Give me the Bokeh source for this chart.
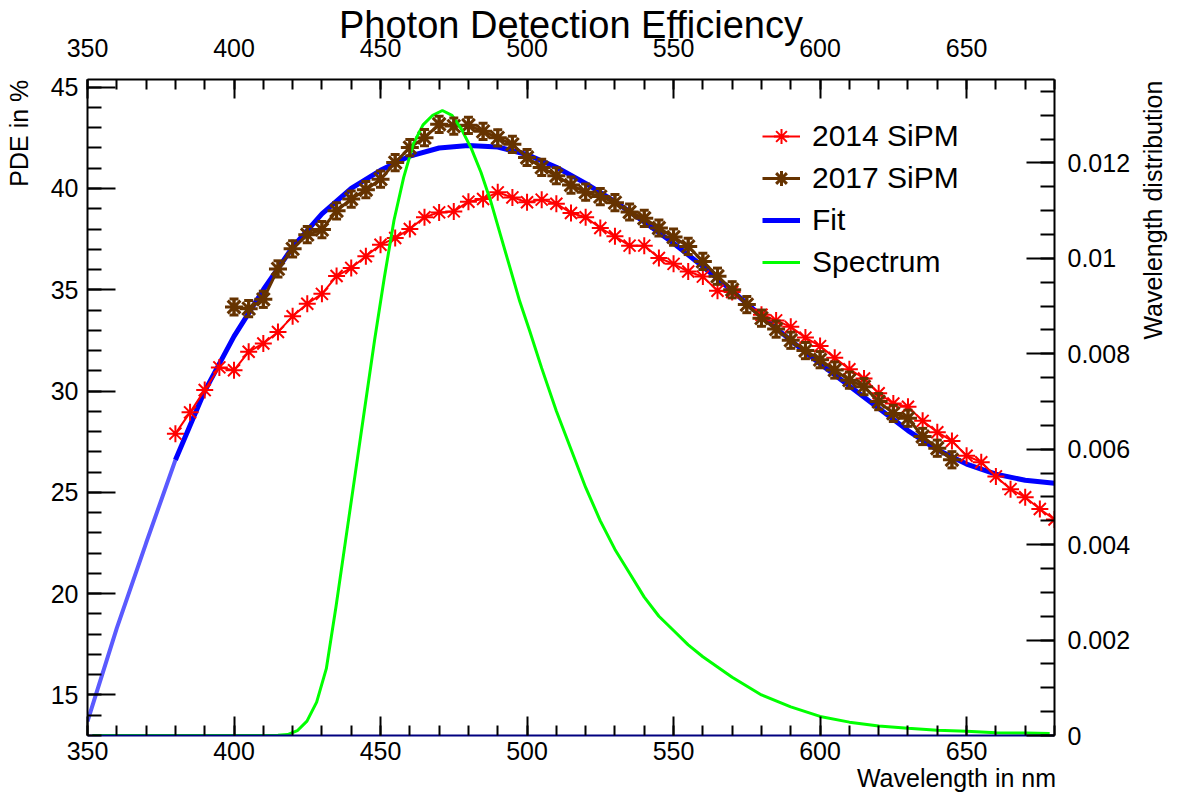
import math
from bokeh.plotting import figure
from bokeh.models import (Range1d, LinearAxis, SingleIntervalTicker, CustomJSTickFormatter,
                          Legend, LegendItem, Whisker, ColumnDataSource, TeeHead)
from bokeh.embed import file_html
from bokeh.resources import INLINE

# ---------------- data ----------------
red_x = [380, 385, 390, 395, 400, 405, 410, 415, 420, 425, 430, 435, 440, 445, 450, 455,
         460, 465, 470, 475, 480, 485, 490, 495, 500, 505, 510, 515, 520, 525, 530, 535,
         540, 545, 550, 555, 560, 565, 570, 575, 580, 585, 590, 595, 600, 605, 610, 615,
         620, 625, 630, 635, 640, 645, 650, 655, 660, 665, 670, 675, 680]
red_y = [27.9, 28.95, 30.05, 31.17, 31.03, 31.94, 32.35, 32.92, 33.69, 34.31, 34.8, 35.68,
         36.08, 36.66, 37.22, 37.56, 38.0, 38.58, 38.82, 38.87, 39.35, 39.48, 39.81, 39.56,
         39.32, 39.45, 39.25, 38.79, 38.58, 38.05, 37.64, 37.18, 37.18, 36.57, 36.28, 35.9,
         35.65, 34.95, 34.89, 34.28, 33.77, 33.49, 33.17, 32.64, 32.22, 31.64, 31.08, 30.62,
         29.89, 29.39, 29.23, 28.53, 27.97, 27.54, 26.81, 26.49, 25.79, 25.16, 24.76, 24.18,
         23.66]

brown_x = [400, 405, 410, 415, 420, 425, 430, 435, 440, 445, 450, 455, 460, 465, 470, 475,
           480, 485, 490, 495, 500, 505, 510, 515, 520, 525, 530, 535, 540, 545, 550, 555,
           560, 565, 570, 575, 580, 585, 590, 595, 600, 605, 610, 615, 620, 625, 630, 635,
           640, 645]
brown_y = [34.15, 34.07, 34.53, 36.03, 37.02, 37.72, 37.97, 38.9, 39.48, 39.94, 40.46, 41.28,
           42.02, 42.51, 43.17, 43.08, 43.12, 42.82, 42.5, 42.18, 41.53, 41.04, 40.63, 40.17,
           39.82, 39.6, 39.3, 38.84, 38.53, 38.05, 37.6, 37.14, 36.4, 35.67, 35.0, 34.27,
           33.6, 33.06, 32.51, 32.0, 31.55, 31.04, 30.54, 30.22, 29.48, 28.9, 28.66, 27.76,
           27.18, 26.61]
brown_err = [0.4] * len(brown_x)

fit_x = [350, 360, 370, 380, 390, 400, 410, 420, 430, 440, 450, 460, 470, 480, 490, 500,
         510, 520, 530, 540, 550, 560, 570, 580, 590, 600, 610, 620, 630, 640, 650, 660,
         670, 680]
fit_y = [13.7, 18.3, 22.5, 26.6, 30.0, 32.7, 35.0, 37.1, 38.75, 40.0, 40.9, 41.6, 42.0, 42.12,
         42.05, 41.68, 41.05, 40.25, 39.35, 38.35, 37.3, 36.15, 34.95, 33.7, 32.5, 31.35,
         30.25, 29.15, 28.05, 27.1, 26.4, 25.9, 25.6, 25.45]

spec_x = [351.65, 365, 380, 395, 410, 415, 418.3, 421.6, 424.9, 428.2, 431.5, 434.8, 438.1,
          441.4, 444.7, 448.0, 451.3, 454.6, 457.9, 461.2, 464.5, 467.8, 471.1, 474.4, 477.7,
          481.0, 484.3, 487.6, 490.9, 494.2, 497.5, 500.8, 505, 510, 515, 520, 525, 530, 535,
          540, 545, 550, 555, 560, 570, 580, 590, 600, 610, 620, 630, 640, 650, 660, 670,
          678.35]
spec_y = [0, 0, 0, 0, 0, 0.000005, 0.00002, 0.0001, 0.0003, 0.0007, 0.0014, 0.0027, 0.0041,
          0.0055, 0.0069, 0.0083, 0.0096, 0.0108, 0.0117, 0.0124, 0.0128, 0.0130, 0.0131,
          0.0130, 0.0127, 0.0123, 0.0118, 0.0112, 0.0105, 0.0098, 0.0091, 0.0085, 0.0077,
          0.0068, 0.0060, 0.0052, 0.0045, 0.0039, 0.0034, 0.0029, 0.0025, 0.0022, 0.0019,
          0.00165, 0.00122, 0.00085, 0.0006, 0.0004, 0.00028, 0.0002, 0.00015, 0.00011,
          0.00009, 0.00006, 0.00005, 0.00004]

x_ticks_interval = 50
left_tick_interval = 5
right_tick_interval = 0.002

FONT = "Liberation Sans"
NBSP = "\u00a0"

# ---------------- figure ----------------
p = figure(width=1184, height=794, output_backend="svg", toolbar_location=None,
           x_range=Range1d(350, 680), y_range=Range1d(13, 45.38),
           min_border_left=87, min_border_right=129, min_border_top=77, min_border_bottom=59,
           x_axis_location=None, y_axis_location=None)
p.extra_y_ranges = {"spec": Range1d(0, 0.01375)}
p.xgrid.visible = False
p.ygrid.visible = False
p.outline_line_color = None
p.background_fill_color = "white"
p.border_fill_color = "white"


def style(ax, tin, mtin, standoff, line_color="black"):
    ax.major_tick_in = tin
    ax.major_tick_out = 0
    ax.minor_tick_in = mtin
    ax.minor_tick_out = 0
    ax.major_tick_line_color = "black"
    ax.major_tick_line_width = 2
    ax.minor_tick_line_color = "black"
    ax.minor_tick_line_width = 2
    ax.axis_line_color = line_color
    ax.axis_line_width = 2
    ax.major_label_text_font = FONT
    ax.major_label_text_font_size = "25px"
    ax.major_label_text_color = "black"
    ax.major_label_standoff = standoff
    ax.axis_label_text_font = FONT
    ax.axis_label_text_font_style = "normal"
    ax.axis_label_text_color = "black"
    ax.axis_label_text_font_size = "25px"


bottom = LinearAxis(ticker=SingleIntervalTicker(interval=x_ticks_interval, num_minor_ticks=5))
style(bottom, 19, 10, 6, "#000080")
top = LinearAxis(ticker=SingleIntervalTicker(interval=x_ticks_interval, num_minor_ticks=5))
style(top, 19, 10, 23)
left = LinearAxis(ticker=SingleIntervalTicker(interval=left_tick_interval, num_minor_ticks=5))
style(left, 28, 14, 9)
right = LinearAxis(y_range_name="spec",
                   ticker=SingleIntervalTicker(interval=right_tick_interval, num_minor_ticks=4),
                   formatter=CustomJSTickFormatter(
                       code="return tick.toFixed(3).replace(/0+$/, '').replace(/\\.$/, '');"))
style(right, 28, 14, 13)

# main title as the label of the top axis (centred over the frame)
top.axis_label = "Photon Detection Efficiency"
top.axis_label_text_font_size = "38px"
top.axis_label_standoff = -10

# axis titles: leading no-break spaces push the visible words to the frame's
# far corner (right end of the x axis, top end of the y axes), as in the reference
bottom.axis_label = NBSP * 111 + "Wavelength in nm"
bottom.axis_label_align = "center"
bottom.axis_label_standoff = 1
left.axis_label = NBSP * 79 + "PDE in %"
left.axis_label_align = "center"
left.axis_label_standoff = 15
right.axis_label = NBSP * 57 + "Wavelength distribution"
right.axis_label_align = "start"
right.axis_label_orientation = math.pi / 2
right.axis_label_standoff = 20

p.add_layout(bottom, "below")
p.add_layout(top, "above")
p.add_layout(left, "left")
p.add_layout(right, "right")

# ---------------- glyphs ----------------
fit_light = p.line(fit_x[:4], fit_y[:4], line_color="#5a5aff", line_width=4)
fit_line = p.line(fit_x[3:], fit_y[3:], line_color="#0000ff", line_width=5)

red_line = p.line(red_x, red_y, line_color="#ff0000", line_width=2)
red_pts = p.scatter(red_x, red_y, marker="asterisk", size=17, line_color="#ff0000",
                    line_width=2)

BROWN = "#663300"
brown_line = p.line(brown_x, brown_y, line_color=BROWN, line_width=3)
err_src = ColumnDataSource(dict(
    base=brown_x,
    upper=[y + e for y, e in zip(brown_y, brown_err)],
    lower=[y - e for y, e in zip(brown_y, brown_err)],
))
whisk = Whisker(base="base", upper="upper", lower="lower", source=err_src,
                dimension="height", line_color=BROWN, line_width=3, level="glyph",
                upper_head=TeeHead(size=9, line_color=BROWN, line_width=3),
                lower_head=TeeHead(size=9, line_color=BROWN, line_width=3))
p.add_layout(whisk)
brown_pts = p.scatter(brown_x, brown_y, marker="asterisk", size=18, line_color=BROWN,
                      line_width=3)

spec_line = p.line(spec_x, spec_y, line_color="#00ff00", line_width=3, y_range_name="spec")

# ---------------- legend ----------------
legend = Legend(items=[
    LegendItem(label="2014 SiPM", renderers=[red_line, red_pts]),
    LegendItem(label="2017 SiPM", renderers=[brown_line, brown_pts]),
    LegendItem(label="Fit", renderers=[fit_line]),
    LegendItem(label="Spectrum", renderers=[spec_line]),
], location=(675, 452), border_line_color=None, background_fill_alpha=0,
    label_text_font=FONT, label_text_font_size="30px", label_text_color="black",
    glyph_width=38, glyph_height=42, label_height=42, spacing=0, padding=0, margin=0,
    label_standoff=12)
p.add_layout(legend)

open("out.html", "w").write(file_html(p, INLINE, "Photon Detection Efficiency"))
